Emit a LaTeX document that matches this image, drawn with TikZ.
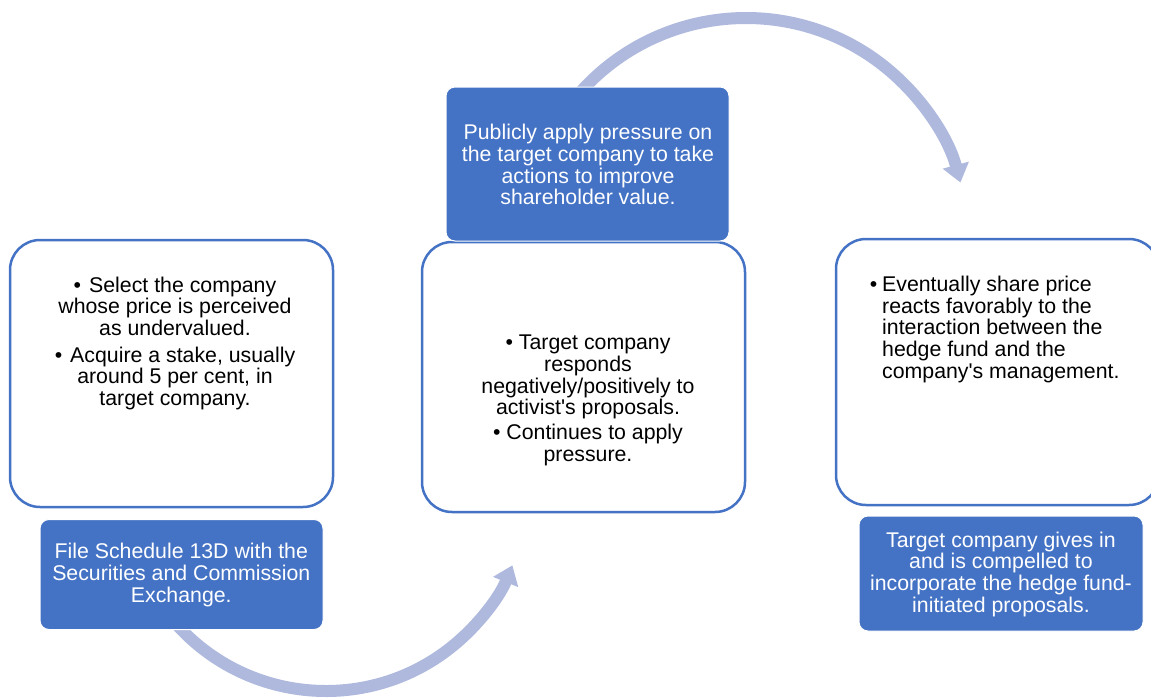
\documentclass[tikz,border=0pt]{standalone}
\usepackage{fontspec}
\setmainfont{Liberation Sans}
\usetikzlibrary{arrows.meta}
\definecolor{blu}{HTML}{4472C4}
\definecolor{arr}{HTML}{AEB9DD}
\begin{document}
\begin{tikzpicture}[x=1pt,y=-1pt,
  wbox/.style={draw=blu, line width=2.5pt, fill=white, rounded corners=30pt, inner sep=0pt},
  bbox/.style={draw=white, line width=1pt, fill=blu, rounded corners=9pt, inner sep=0pt},
  txt/.style={inner sep=0pt, font=\fontsize{21.3}{21.7}\selectfont, align=center},
  wtxt/.style={txt, text=white},
  arrowline/.style={draw=arr, line width=12pt, -{Triangle[width=26pt,length=18pt]}}]
\useasboundingbox (0,0) rectangle (1151,699);

% arc centres
\coordinate (ctop) at (746,240);
\coordinate (cbot) at (326,490);

% curved arrows (drawn first, partly hidden by boxes)
\draw[arrowline] (ctop) ++(-140:222) arc[start angle=-140, end angle=-15, radius=222];
\draw[arrowline] (cbot) ++(140:201) arc[start angle=140, end angle=22, radius=201];

% white boxes
\node[wbox, minimum width=323pt, minimum height=267pt] (lw) at (171.5,373.5) {};
\node[wbox, minimum width=323pt, minimum height=270pt] (mw) at (583.5,377) {};
\node[wbox, minimum width=323pt, minimum height=266pt] (rw) at (997.5,372) {};

% blue boxes
\node[bbox, minimum width=283pt, minimum height=154pt] (mb) at (587.5,164) {};
\node[bbox, minimum width=283pt, minimum height=110pt] (lb) at (181.5,574.5) {};
\node[bbox, minimum width=284pt, minimum height=115pt] (rb) at (1001,573.5) {};

% texts
\node[txt, anchor=north] (t1) at (175,276.5)
  {•\hspace{8pt}Select the company\\
   whose price is perceived\\
   as undervalued.\\[5pt]
   •\hspace{8pt}Acquire a stake, usually\\
   around 5 per cent, in\\
   target company.};

\node[txt, anchor=north] (t2) at (588,334.8)
  {• Target company\\
   responds\\
   negatively/positively to\\
   activist\textquotesingle s proposals.\\[3.5pt]
   • Continues to apply\\
   pressure.};

\node[txt, align=left, anchor=north west] (t3) at (882,275.8)
  {\llap{•\hspace{5pt}}Eventually share price\\
   reacts favorably to the\\
   interaction between the\\
   hedge fund and the\\
   company\textquotesingle s management.};

\node[wtxt, anchor=north] (t4) at (588,124)
  {Publicly apply pressure on\\
   the target company to take\\
   actions to improve\\
   shareholder value.};

\node[wtxt, anchor=north] (t5) at (181.3,543)
  {File Schedule 13D with the\\
   Securities and Commission\\
   Exchange.};

\node[wtxt, anchor=north] (t6) at (1001,531.5)
  {Target company gives in\\
   and is compelled to\\
   incorporate the hedge fund-\\
   initiated proposals.};
\end{tikzpicture}
\end{document}
